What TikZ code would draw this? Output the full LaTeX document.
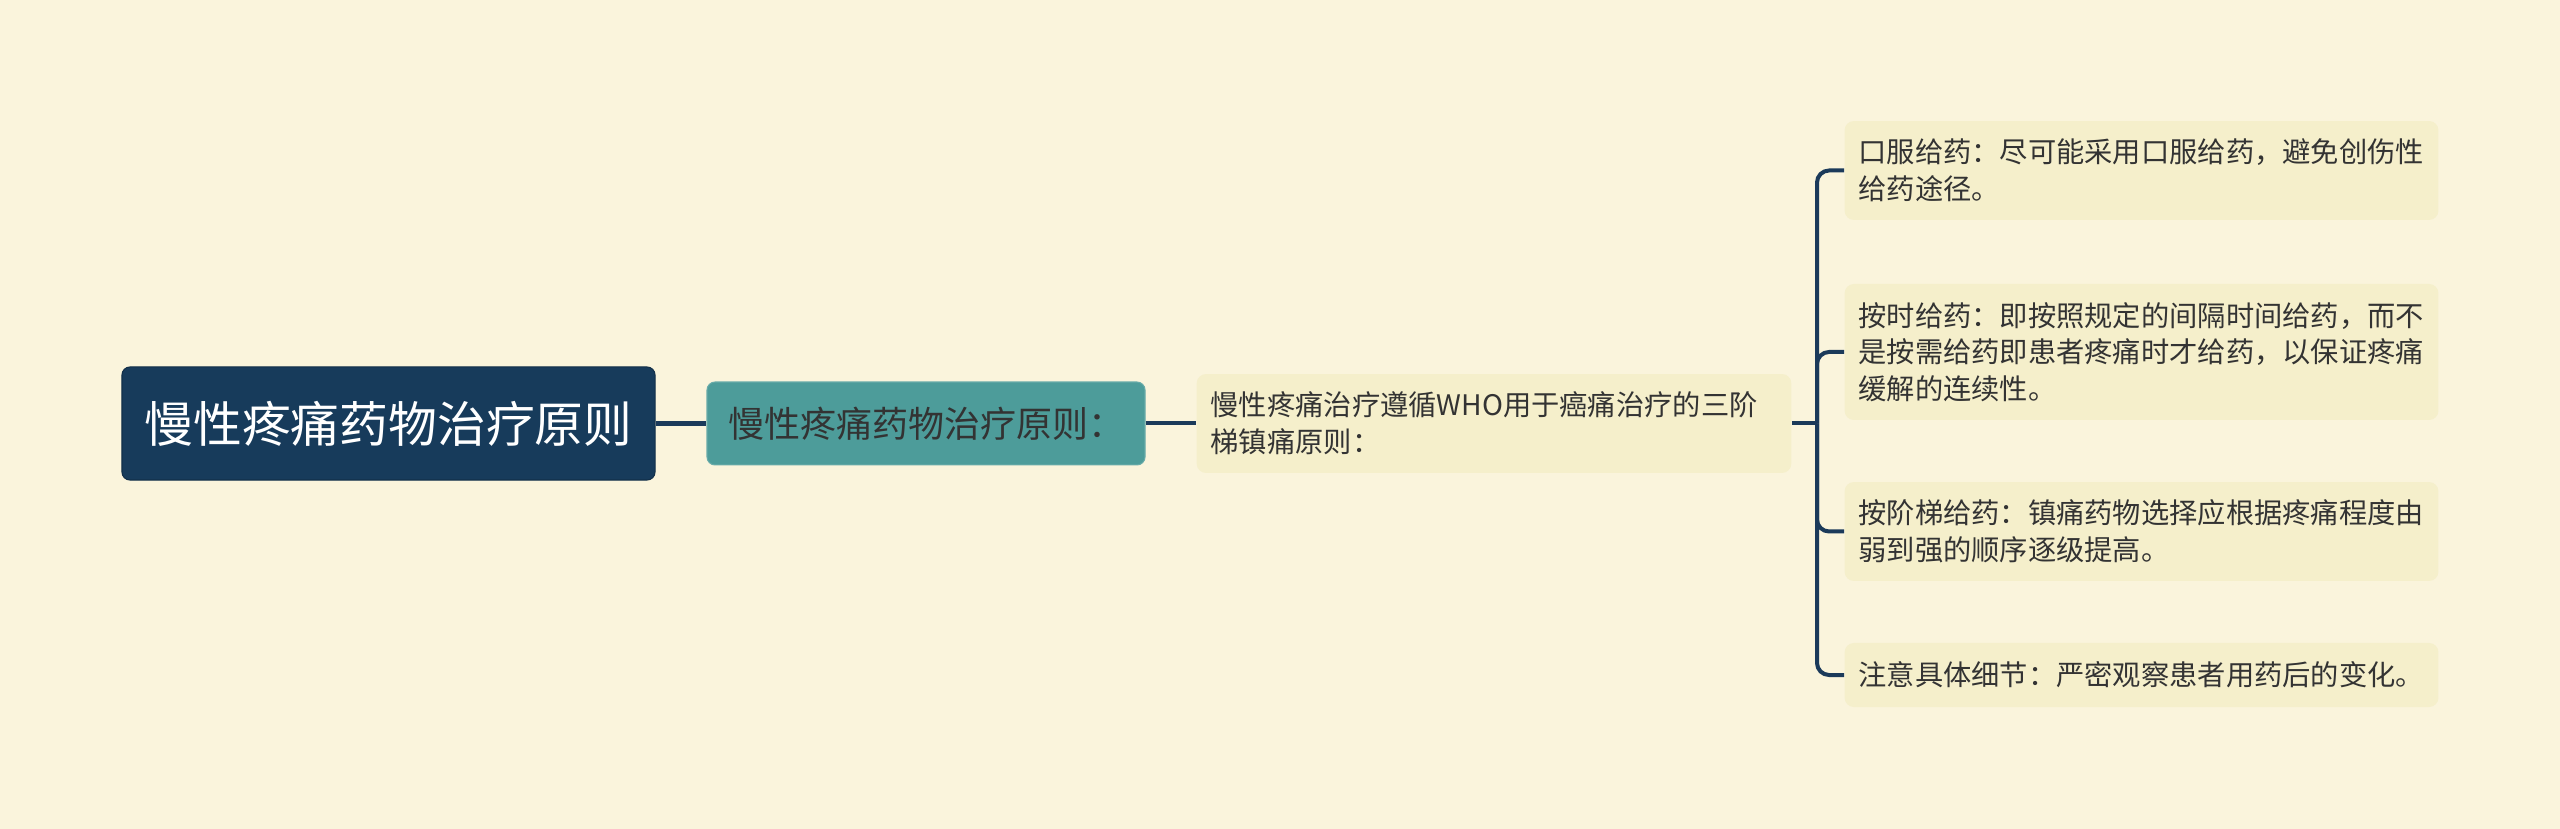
\documentclass[tikz,border=0pt]{standalone}
\usepackage{fontspec}
\newfontfamily\cjk{Noto Sans CJK SC}
\definecolor{bgc}{HTML}{FAF4DC}
\definecolor{rootc}{HTML}{173B5B}
\definecolor{tealc}{HTML}{4D9C9A}
\definecolor{leafc}{HTML}{F5EFCB}
\definecolor{linec}{HTML}{1B3A5A}
\definecolor{txtc}{HTML}{333333}
\tikzset{
  rootbox/.style={draw=rootc!80!black, line width=0.4pt, fill=rootc, rounded corners=3pt, text=white,
    font=\cjk\fontsize{18.3}{22}\selectfont, minimum width=199.9pt, minimum height=42.4pt, inner sep=0pt},
  midbox/.style={draw=tealc!85!white, line width=0.4pt, fill=tealc, rounded corners=3pt, text=txtc,
    font=\cjk\fontsize{13.5}{16}\selectfont, minimum width=164.25pt, minimum height=31.1pt, inner sep=0pt},
  leafbox/.style={fill=leafc, rounded corners=3.5pt, text=txtc, align=left,
    font=\cjk\fontsize{10.6}{13.76}\selectfont, text width=212.2pt, inner xsep=5.25pt, inner ysep=0pt},
  link/.style={draw=linec, line width=1.5pt},
}
\begin{document}
\begin{tikzpicture}[x=0.375pt, y=-0.375pt]
\useasboundingbox[fill=bgc] (0,0) rectangle (2560,829);
\node[rootbox] (root) at (388.5,423.5) {慢性疼痛药物治疗原则};
\node[midbox] (mid) at (926,423.5) {慢性疼痛药物治疗原则：};
\node[leafbox, minimum height=37.1pt, text width=212.5pt] (sub) at (1494,423.5) {慢性疼痛治疗遵循WHO用于癌痛治疗的三阶\\梯镇痛原则：};
\node[leafbox, minimum height=37.1pt] (l1) at (2141.5,170.5) {口服给药：尽可能采用口服给药，避免创伤性\\给药途径。};
\node[leafbox, minimum height=51pt] (l2) at (2141.5,352) {按时给药：即按照规定的间隔时间给药，而不\\是按需给药即患者疼痛时才给药，以保证疼痛\\缓解的连续性。};
\node[leafbox, minimum height=37.1pt] (l3) at (2141.5,531.5) {按阶梯给药：镇痛药物选择应根据疼痛程度由\\弱到强的顺序逐级提高。};
\node[leafbox, minimum height=24pt] (l4) at (2141.5,675) {注意具体细节：严密观察患者用药后的变化。};
\coordinate (br) at (1817,423.5);
\draw[link, line width=1.7pt] (root.east) -- (mid.west);
\draw[link] (mid.east) -- (sub.west);
\draw[link] (sub.east) -- (br);
\foreach \l in {l1,l2,l3,l4}{
  \draw[link, rounded corners=4.5pt] (br) |- (\l.west);
}
\end{tikzpicture}
\end{document}
